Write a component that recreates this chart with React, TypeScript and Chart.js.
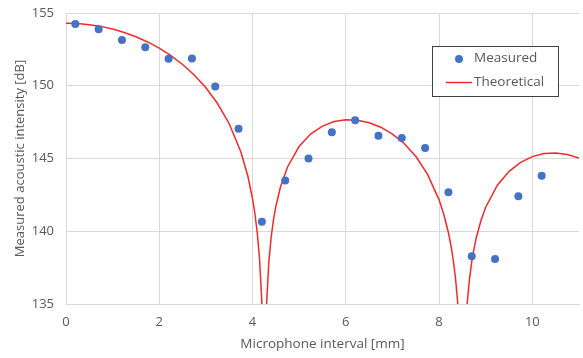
import React, { useEffect, useRef } from "react";
import { Chart, registerables } from "chart.js";

Chart.register(...registerables);

const measuredX = [0.2, 0.7, 1.2, 1.7, 2.2, 2.7, 3.2, 3.7, 4.2, 4.7, 5.2, 5.7, 6.2, 6.7, 7.2, 7.7, 8.2, 8.7, 9.2, 9.7, 10.2];
const measuredY = [154.24, 153.88, 153.14, 152.64, 151.86, 151.88, 149.94, 147.05, 140.66, 143.48, 145.0, 146.8, 147.63, 146.57, 146.41, 145.72, 142.68, 138.28, 138.09, 142.4, 143.82];

const theoryX = [0, 0.25, 0.5, 0.75, 1.0, 1.25, 1.5, 1.75, 2.0, 2.25, 2.5, 2.75, 3.0, 3.25, 3.5, 3.75, 3.9, 4.0, 4.05, 4.1, 4.15, 4.2, 4.25, 4.3, 4.35, 4.4, 4.45, 4.5, 4.6, 4.75, 5.0, 5.25, 5.5, 5.75, 6.0, 6.25, 6.5, 6.75, 7.0, 7.25, 7.5, 7.75, 8.0, 8.1, 8.2, 8.25, 8.3, 8.35, 8.4, 8.5, 8.6, 8.65, 8.7, 8.75, 8.8, 8.9, 9.0, 9.25, 9.5, 9.75, 10.0, 10.25, 10.5, 10.75, 11.0];
const theoryY = [154.3, 154.28, 154.2, 154.08, 153.9, 153.66, 153.37, 153.01, 152.58, 152.07, 151.46, 150.74, 149.86, 148.78, 147.39, 145.45, 143.78, 142.23, 141.22, 139.93, 138.11, 135.06, 120, 134.96, 137.91, 139.62, 140.81, 141.72, 143.06, 144.42, 145.84, 146.7, 147.23, 147.54, 147.66, 147.63, 147.46, 147.15, 146.68, 146.03, 145.15, 143.93, 142.16, 141.17, 139.9, 139.09, 138.11, 136.84, 135.05, 120, 134.95, 136.68, 137.9, 138.83, 139.59, 140.76, 141.65, 143.16, 144.12, 144.74, 145.13, 145.34, 145.38, 145.28, 145.03];

const xTitle = "Microphone interval [mm]";
const yTitle = "Measured acoustic intensity [dB]";
const seriesNames = ["Measured", "Theoretical"];

const FONT = "'Open Sans', sans-serif";
const TEXT = "#595959";
const GRID = "#d9d9d9";
const BLUE = "#4472c4";
const RED = "#ee2a2e";

const legendPlugin = {
  id: "boxLegend",
  afterDraw(chart: any) {
    const ctx = chart.ctx;
    ctx.save();
    const x = 432, y = 46, w = 126, h = 50;
    ctx.fillStyle = "#ffffff";
    ctx.fillRect(x, y, w, h);
    ctx.strokeStyle = "#404040";
    ctx.lineWidth = 1;
    ctx.strokeRect(x + 0.5, y + 0.5, w, h);
    ctx.fillStyle = BLUE;
    ctx.beginPath();
    ctx.arc(459, 59, 4, 0, Math.PI * 2);
    ctx.fill();
    ctx.strokeStyle = RED;
    ctx.lineWidth = 1.5;
    ctx.beginPath();
    ctx.moveTo(446, 82.5);
    ctx.lineTo(472, 82.5);
    ctx.stroke();
    ctx.fillStyle = TEXT;
    ctx.font = `13.5px ${FONT}`;
    ctx.textBaseline = "middle";
    ctx.textAlign = "left";
    ctx.fillText(seriesNames[0], 474, 58.5);
    ctx.fillText(seriesNames[1], 474, 82.5);
    ctx.restore();
  },
};

export default function App() {
  const ref = useRef<HTMLCanvasElement | null>(null);
  useEffect(() => {
    document.body.style.margin = "0";
    const chart = new Chart(ref.current as HTMLCanvasElement, {
      type: "scatter",
      data: {
        datasets: [
          {
            label: seriesNames[0],
            data: measuredX.map((x, i) => ({ x, y: measuredY[i] })),
            backgroundColor: BLUE,
            borderColor: BLUE,
            pointRadius: 4,
            pointBorderWidth: 0,
            showLine: false,
          },
          {
            label: seriesNames[1],
            data: theoryX.map((x, i) => ({ x, y: theoryY[i] })),
            borderColor: RED,
            backgroundColor: RED,
            borderWidth: 1.5,
            pointRadius: 0,
            showLine: true,
            tension: 0,
          },
        ],
      },
      options: {
        animation: false,
        responsive: false,
        maintainAspectRatio: false,
        layout: { padding: { left: 0, right: 2, top: 13, bottom: 0 } },
        plugins: { legend: { display: false }, tooltip: { enabled: false } },
        scales: {
          x: {
            type: "linear",
            min: 0,
            max: 11,
            afterBuildTicks: (s: any) => {
              s.ticks = s.ticks.filter((t: any) => t.value <= 10);
            },
            afterFit: (s: any) => {
              s.height = 54;
              s.paddingLeft = 0;
              s.paddingRight = 0;
            },
            ticks: { stepSize: 2, color: TEXT, font: { family: FONT, size: 13 }, padding: 10 },
            grid: { color: GRID, drawTicks: false, lineWidth: 1 },
            border: { color: GRID },
            title: { display: true, text: xTitle, color: TEXT, font: { family: FONT, size: 13.5 }, padding: { top: 4, bottom: 6 } },
          },
          y: {
            min: 135,
            max: 155,
            afterFit: (s: any) => {
              s.width = 66;
              s.paddingTop = 0;
              s.paddingBottom = 0;
            },
            ticks: { stepSize: 5, color: TEXT, font: { family: FONT, size: 13 }, padding: 12 },
            grid: { color: GRID, drawTicks: false, lineWidth: 1 },
            border: { color: GRID },
            title: { display: true, text: yTitle, color: TEXT, font: { family: FONT, size: 13 }, padding: { top: 12, bottom: 4 } },
          },
        },
      },
      plugins: [legendPlugin],
    } as any);
    return () => chart.destroy();
  }, []);
  return (
    <div style={{ position: "relative", width: 583, height: 358 }}>
      <canvas ref={ref} width={583} height={358} style={{ width: 583, height: 358, display: "block" }} />
    </div>
  );
}
